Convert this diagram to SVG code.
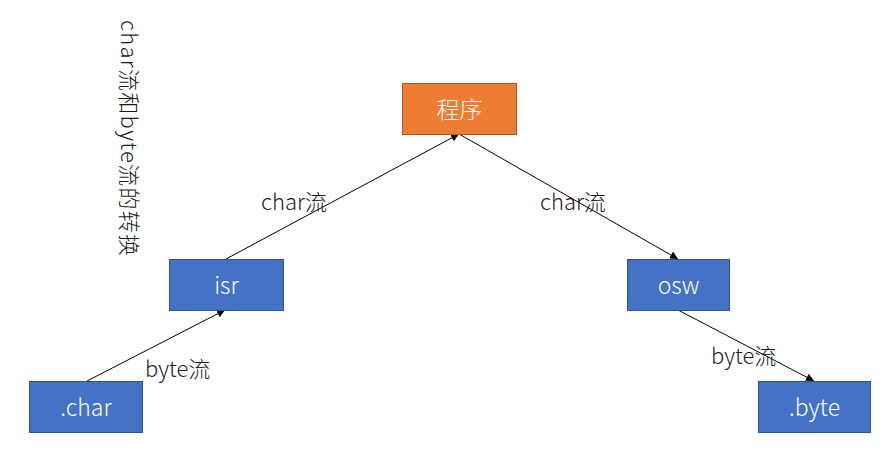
<svg xmlns="http://www.w3.org/2000/svg" width="889" height="462" viewBox="0 0 889 462">
<style>
.t{font-family:"Noto Sans CJK SC","Liberation Sans",sans-serif;font-size:22px;font-weight:300;fill:#1a1a1a}
.w{font-family:"Noto Sans CJK SC","Liberation Sans",sans-serif;font-size:23px;font-weight:300;fill:#fff;text-anchor:middle;dominant-baseline:central}
.b{fill:#4472C4;stroke:#2F528F;stroke-width:1}
.o{fill:#ED7D31;stroke:#AE5A21;stroke-width:1}
.c{stroke:#000;stroke-width:1;fill:none;marker-end:url(#a)}
</style>
<defs>
<marker id="a" viewBox="0 0 10 10" refX="10" refY="5" markerWidth="8" markerHeight="8" markerUnits="userSpaceOnUse" orient="auto">
<path d="M0,0L10,5L0,10z" fill="#000"/>
</marker>
</defs>
<rect width="889" height="462" fill="#fff"/>
<text class="t" transform="translate(121,20) rotate(90)" textLength="236" lengthAdjust="spacing">char流和byte流的转换</text>
<g id="connectors">
<line class="c" x1="87" y1="381" x2="225" y2="310"/>
<line class="c" x1="226" y1="259" x2="459" y2="134"/>
<line class="c" x1="459" y1="134" x2="678" y2="259"/>
<line class="c" x1="678" y1="310" x2="814" y2="381"/>
<text class="t" x="261" y="210">char流</text>
<text class="t" x="540" y="210">char流</text>
<text class="t" x="145" y="377">byte流</text>
<text class="t" x="711" y="364">byte流</text>
</g>
<g id="n-prog"><rect class="o" x="402.5" y="83.5" width="114" height="51"/><text class="w" x="459.5" y="108">程序</text></g>
<g id="n-isr"><rect class="b" x="169.5" y="259.5" width="114" height="51"/><text class="w" x="226.5" y="284">isr</text></g>
<g id="n-osw"><rect class="b" x="627.5" y="259.5" width="102" height="51"/><text class="w" x="678.5" y="284">osw</text></g>
<g id="n-char"><rect class="b" x="29.5" y="381.5" width="113" height="51"/><text class="w" x="86" y="406">.char</text></g>
<g id="n-byte"><rect class="b" x="758.5" y="381.5" width="112" height="51"/><text class="w" x="814.5" y="406">.byte</text></g>
</svg>
